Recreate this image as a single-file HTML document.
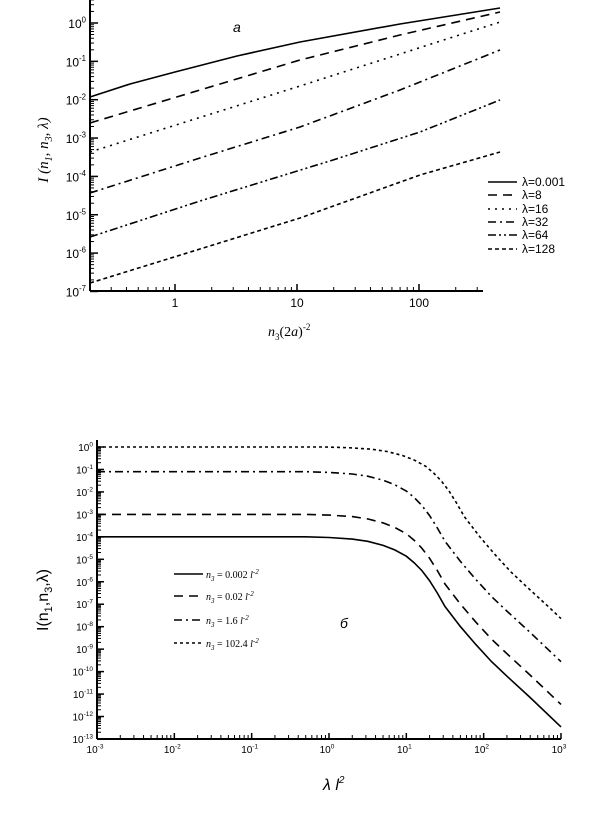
<!DOCTYPE html>
<html><head><meta charset="utf-8"><style>
html,body{margin:0;padding:0;background:#fff;}
svg{display:block;font-family:"Liberation Sans",sans-serif;}
</style></head><body>
<svg id="s" width="605" height="826" xmlns="http://www.w3.org/2000/svg">
<g id="g"></g>
<text x="233" y="32" font-size="14" font-style="italic">a</text>
<text transform="translate(48,150) rotate(-90)" font-family="Liberation Serif,serif" font-style="italic" font-size="15" text-anchor="middle">I (n<tspan font-size="10" dy="4">1</tspan><tspan dy="-4">, n</tspan><tspan font-size="10" dy="4">3</tspan><tspan dy="-4">, λ)</tspan></text>
<text x="268" y="336" font-family="Liberation Serif,serif" font-size="14"><tspan font-style="italic">n</tspan><tspan font-size="9" dy="4">3</tspan><tspan dy="-4">(2</tspan><tspan font-style="italic">a</tspan><tspan>)</tspan><tspan font-size="9" dy="-6">-2</tspan></text>
<g font-size="12">
<text x="522" y="186">λ=0.001</text>
<text x="522" y="199">λ=8</text>
<text x="522" y="213">λ=16</text>
<text x="522" y="226">λ=32</text>
<text x="522" y="239">λ=64</text>
<text x="522" y="253">λ=128</text>
</g>
<text x="340" y="628" font-size="14" font-style="italic">б</text>
<text transform="translate(48,600) rotate(-90)" font-size="16" text-anchor="middle">I(n<tspan font-size="11" dy="4">1</tspan><tspan dy="-4">,n</tspan><tspan font-size="11" dy="4">3</tspan><tspan dy="-4">,λ)</tspan></text>
<text x="323" y="790" font-size="16" font-style="italic">λ l<tspan font-size="10" dy="-7">2</tspan></text>
<g font-family="Liberation Serif,serif" font-size="10" font-style="italic">
<text x="206" y="578">n<tspan font-size="7" dy="3">3</tspan><tspan dy="-3" font-style="normal"> = 0.002 </tspan>l<tspan font-size="7" dy="-4">-2</tspan></text>
<text x="206" y="600">n<tspan font-size="7" dy="3">3</tspan><tspan dy="-3" font-style="normal"> = 0.02 </tspan>l<tspan font-size="7" dy="-4">-2</tspan></text>
<text x="206" y="624">n<tspan font-size="7" dy="3">3</tspan><tspan dy="-3" font-style="normal"> = 1.6  </tspan>l<tspan font-size="7" dy="-4">-2</tspan></text>
<text x="206" y="647">n<tspan font-size="7" dy="3">3</tspan><tspan dy="-3" font-style="normal"> = 102.4 </tspan>l<tspan font-size="7" dy="-4">-2</tspan></text>
</g>
</svg>
<script>
var g=document.getElementById('g'),NS='http://www.w3.org/2000/svg';
function el(t,a,txt){var e=document.createElementNS(NS,t);for(var k in a)e.setAttribute(k,a[k]);if(txt!==undefined)e.textContent=txt;g.appendChild(e);return e;}
function line(x1,y1,x2,y2,w){el('line',{x1:x1,y1:y1,x2:x2,y2:y2,stroke:'#000','stroke-width':w||1});}
function sup(x,y,base,exp,fs,anchor){var t=el('text',{x:x,y:y,'font-size':fs,'text-anchor':anchor||'end'});
 var a=document.createElementNS(NS,'tspan');a.textContent=base;t.appendChild(a);
 var b=document.createElementNS(NS,'tspan');b.setAttribute('font-size',fs*0.65);b.setAttribute('dy',-fs*0.45);b.textContent=exp;t.appendChild(b);}
var dashes={solid:'',dash:'9,6',dot:'2,5',dd:'8,4,2,4',ddd:'8,3,2,3,2,3',sd:'4,3'};
function path(pts,d){var s='M'+pts.map(function(p){return p[0].toFixed(1)+','+p[1].toFixed(1)}).join('L');
 el('path',{d:s,fill:'none',stroke:'#000','stroke-width':1.6,'stroke-dasharray':d});}
var TY=function(l){return 23-l*38.35}, TX=function(l){return 175+l*122};
line(90,0,90,291,2);line(90,291,483,291,2);
for(var k=0;k>=-7;k--){var y=TY(k);line(90,y,98,y,1.5);sup(86,y+5,'10',k,12);
 if(k>-7)for(var m=2;m<10;m++){var yy=TY(k-1+Math.log10(m));line(90,yy,94,yy,1);} }
for(var m=2;m<10;m++){line(90,TY(Math.log10(m)),94,TY(Math.log10(m)),1);}
var xl=['1','10','100'];
for(var k=0;k<3;k++){var x=TX(k);line(x,291,x,284,1.5);el('text',{x:x,y:307,'font-size':12,'text-anchor':'middle'},xl[k]);}
for(var k=-1;k<3;k++)for(var m=2;m<10;m++){var x=TX(k+Math.log10(m));if(x>90&&x<484)line(x,291,x,287,1);}
path([[90,97],[130,84],[175,72],[237,56],[300,42],[400,24],[500,8]],'');
path([[90,123],[200,90],[300,60],[400,35],[500,12]],dashes.dash);
path([[90,152],[300,86],[500,22]],dashes.dot);
path([[90,193],[200,158],[300,127],[400,90],[500,50]],dashes.dd);
path([[90,237],[200,201],[333,160],[420,132],[500,100]],dashes.ddd);
path([[90,283],[200,249],[300,218],[420,175],[500,152]],dashes.sd);
var ly=[182,195,209,222,235,249],ld=['',dashes.dash,dashes.dot,dashes.dd,dashes.ddd,dashes.sd];
for(var i=0;i<6;i++)el('line',{x1:488,y1:ly[i],x2:517,y2:ly[i],stroke:'#000','stroke-width':1.6,'stroke-dasharray':ld[i]});
var BY=function(l){return 447-l*22.46}, BX=function(l){return 97+(l+3)*77.33};
line(97,440,97,739,2);line(97,739,561,739,2);
for(var k=0;k>=-13;k--){var y=BY(k);line(97,y,104,y,1.5);sup(93,y+4,'10',k,10);
 if(k>-13)for(var m=2;m<10;m++){var yy=BY(k-1+Math.log10(m));line(97,yy,101,yy,1);} }
for(var k=-3;k<=3;k++){var x=BX(k);line(x,739,x,733,1.5);sup(x-2,753,'10',k,10,'middle');
 if(k<3)for(var m=2;m<10;m++){var xx=BX(k+Math.log10(m));line(xx,739,xx,735,1);} }
var sol=[[-3,-4],[-0.3,-4],[0,-4.03],[0.3,-4.1],[0.5,-4.2],[0.7,-4.38],[0.85,-4.58],[1,-4.86],[1.1,-5.15],[1.2,-5.5],[1.3,-5.95],[1.4,-6.5],[1.5,-7.1],[1.7,-8.0],[1.9,-8.8],[2.1,-9.55],[2.3,-10.2],[2.6,-11.15],[3,-12.46]];
function curve(dx,dy,d){var p=[];sol.forEach(function(q,i){var lx=q[0]+dx;var ly=q[1]+dy;if(i==0)lx=-3;if(lx<=3)p.push([BX(lx),BY(ly)]);});
 if(dx>0){var a=sol[sol.length-2],b=sol[sol.length-1];var s=(b[1]-a[1])/(b[0]-a[0]);p.push([BX(3),BY(b[1]+dy+s*(-dx))]);}
 path(p,d);}
curve(0,0,'');
curve(0,1,dashes.dash);
curve(0,2.9,dashes.dd);
curve(0.25,4,'3,3');
var by=[574,596,620,643],bd=['',dashes.dash,dashes.dd,'3,3'];
for(var i=0;i<4;i++)el('line',{x1:174,y1:by[i],x2:203,y2:by[i],stroke:'#000','stroke-width':1.6,'stroke-dasharray':bd[i]});
</script>
</body></html>
